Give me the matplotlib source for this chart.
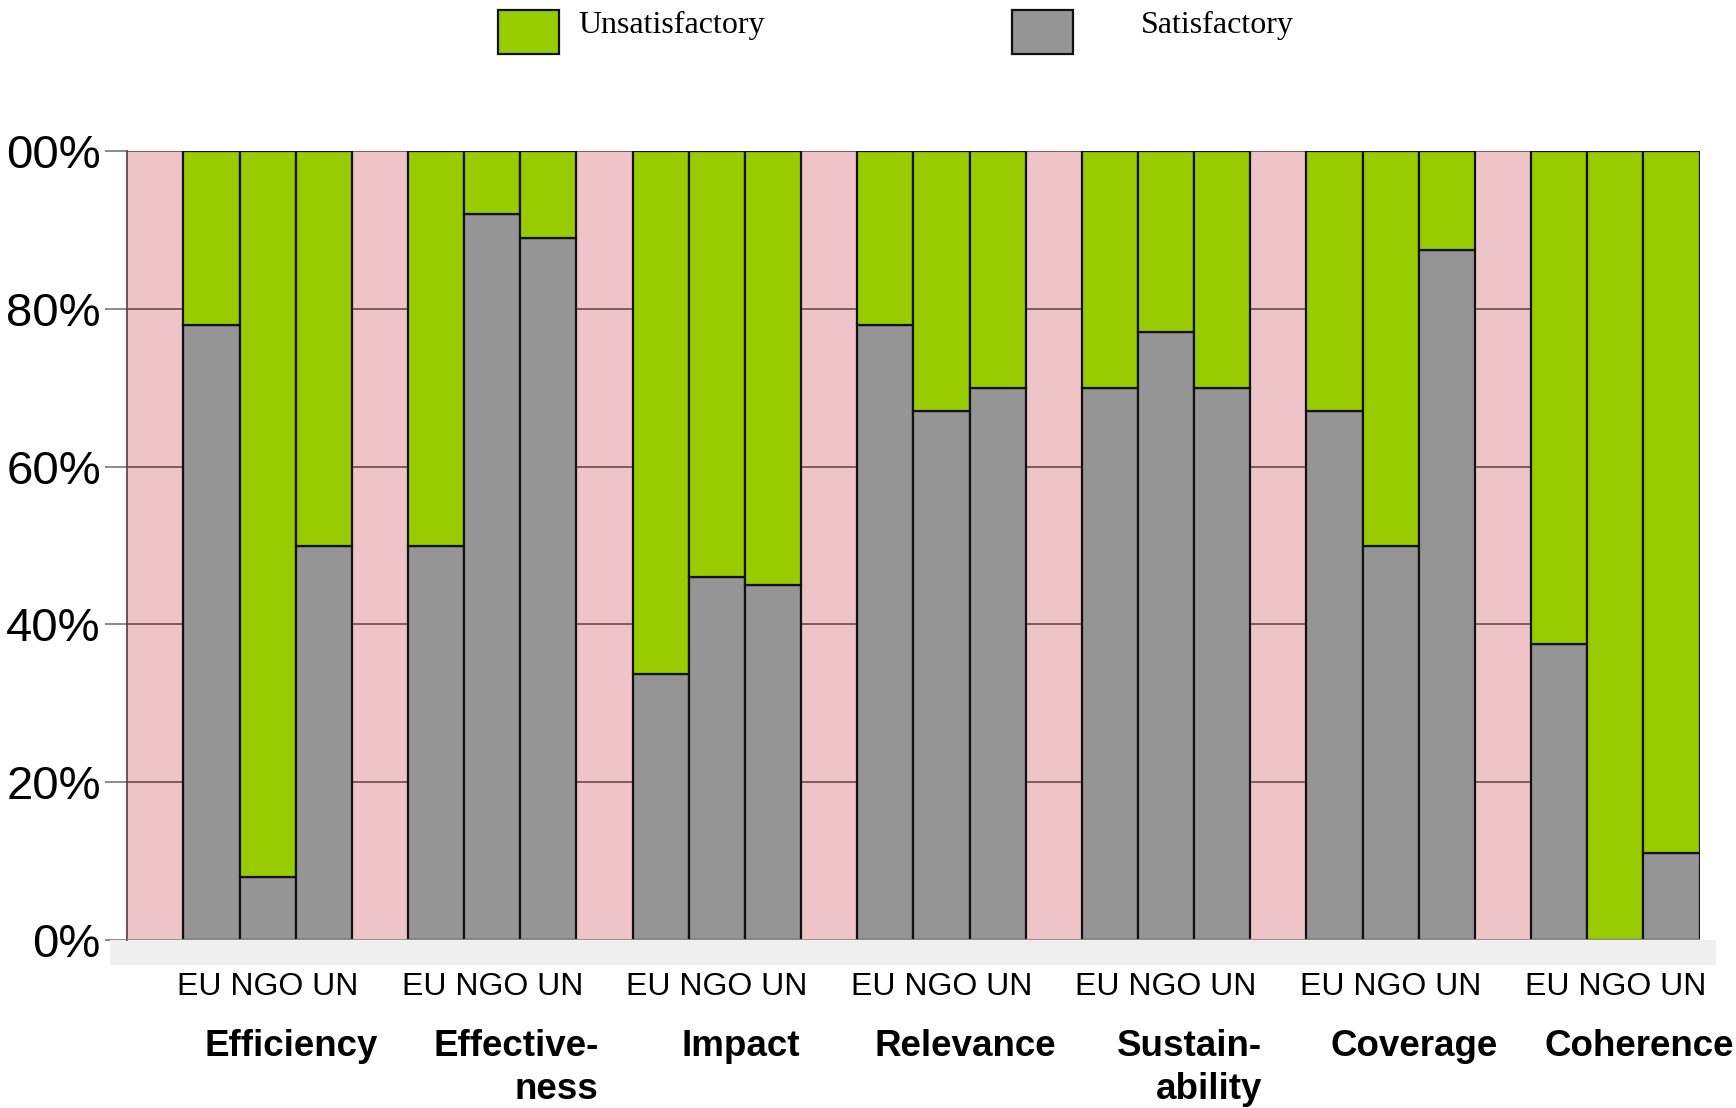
import matplotlib
matplotlib.use('Agg')
import matplotlib.pyplot as plt
from matplotlib.patches import Rectangle

criteria = ['Efficiency', 'Effective-\nness', 'Impact', 'Relevance',
            'Sustain-\nability', 'Coverage', 'Coherence']
agencies = ['EU', 'NGO', 'UN']

# share of satisfactory ratings, per criterion: EU, NGO, UN
satisfactory = [
    [0.78, 0.08, 0.50],
    [0.50, 0.92, 0.89],
    [0.337, 0.46, 0.45],
    [0.78, 0.67, 0.70],
    [0.70, 0.77, 0.70],
    [0.67, 0.50, 0.875],
    [0.375, 0.0, 0.11],
]
unsatisfactory = [[1 - v for v in row] for row in satisfactory]

ytick_vals = [0, 0.2, 0.4, 0.6, 0.8, 1.0]
ytick_labels = ['0%', '20%', '40%', '60%', '80%', '00%']

green = '#99cc00'
grey = '#959595'
pink = '#eec4c8'

fig = plt.figure(figsize=(17.36, 11.08), dpi=100)
ax = fig.add_axes([0.0733, 0.1516, 0.9057, 0.7121])
ax.set_facecolor(pink)

for g in range(len(criteria)):
    for j in range(len(agencies)):
        x = 4 * g + 1.5 + j
        s = satisfactory[g][j]
        u = unsatisfactory[g][j]
        ax.bar(x, s, width=1, color=grey, edgecolor='#111111', linewidth=1.6, zorder=3)
        ax.bar(x, u, bottom=s, width=1, color=green, edgecolor='#111111', linewidth=1.6, zorder=3)

ax.set_xlim(0, 4 * len(criteria))
ax.set_ylim(0, 1)
ax.set_axisbelow(True)
ax.yaxis.grid(True, color='#6a4a4c', linewidth=1.2)

ax.set_yticks(ytick_vals)
ax.set_yticklabels(ytick_labels, fontsize=34, family=['Liberation Sans', 'DejaVu Sans'])
ax.tick_params(axis='y', length=16, width=1.2, color='#777777', pad=3)

centers = [4 * g + 2.5 for g in range(len(criteria))]
ax.set_xticks(centers)
ax.set_xticklabels([' '.join(agencies)] * len(criteria), fontsize=23,
                   family=['Liberation Sans', 'DejaVu Sans'])
ax.tick_params(axis='x', length=0, pad=23)

for sp in ['top', 'right', 'bottom']:
    ax.spines[sp].set_visible(False)
ax.spines['left'].set_color('#553a3a')
ax.spines['left'].set_linewidth(1.2)

# pale floor strip under the plot
ax.add_patch(Rectangle((-0.3, -0.032), 28.6, 0.032, transform=ax.transData,
                       facecolor='#efefef', edgecolor='none', clip_on=False, zorder=1))
ax.axhline(0, color='#9a9a9a', linewidth=2, zorder=4)

# category names under each group
for g, name in enumerate(criteria):
    ax.text(centers[g] + 0.42, -0.113, name, ha='center', va='top', fontsize=26.5,
            fontweight='bold', multialignment='right', linespacing=1.28,
            family=['Liberation Sans', 'DejaVu Sans'], transform=ax.transData)

# legend across the top
for lx, tx, col, lab in [(0.2869, 0.333, green, 'Unsatisfactory'),
                         (0.5830, 0.657, grey, 'Satisfactory')]:
    fig.add_artist(Rectangle((lx, 0.951), 0.0351, 0.0397, transform=fig.transFigure,
                             facecolor=col, edgecolor='#111111', linewidth=1.6))
    fig.text(tx, 0.977, lab, fontsize=23, va='center', ha='left',
             family=['Liberation Serif', 'DejaVu Serif'])

fig.savefig('out.png', dpi=100, facecolor='white')
